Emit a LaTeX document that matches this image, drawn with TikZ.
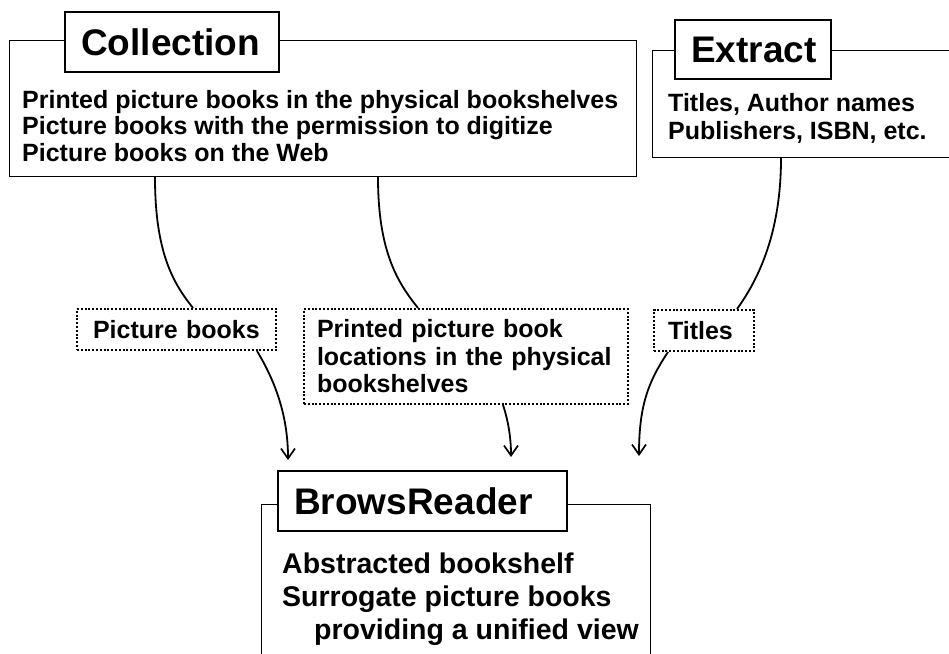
\documentclass[tikz,border=0pt]{standalone}
\usepackage{fontspec}
\setmainfont{Liberation Sans}
\usetikzlibrary{arrows.meta}
\begin{document}
\begin{tikzpicture}[x=1pt,y=-1pt,
  outerbox/.style={draw, line width=1.2pt, inner sep=0pt, anchor=north west},
  titlebox/.style={draw, fill=white, line width=2.4pt, inner xsep=16pt, inner ysep=0pt,
    align=left, anchor=north west, font=\fontsize{37}{42}\selectfont\bfseries},
  % multi-line text blocks are placed by the baseline of their last line
  bodytext/.style={inner sep=0pt, anchor=base west, align=left,
    font=\fontsize{25}{26.5}\selectfont\bfseries},
  tagbox/.style={draw, dash pattern=on 2pt off 1.8pt, line width=2pt, inner ysep=0pt,
    align=left, anchor=north west, font=\fontsize{25}{27.5}\selectfont\bfseries},
  link/.style={line width=1.8pt},
  feed/.style={line width=1.8pt, -{Straight Barb[length=10pt,width=14pt,line width=1.7pt]}}
]
\useasboundingbox (0,0) rectangle (949,653);
\clip (0,0) rectangle (949,653);

% Collection
\node[outerbox, minimum width=627pt, minimum height=136pt] (coll) at (9,40) {};
\node[titlebox, text width=182pt, minimum height=60pt] (collT) at (64,11) {Collection};
\node[bodytext] (collB) at (22,161) {Printed picture books in the physical bookshelves\\
  Picture books with the permission to digitize\\Picture books on the Web};

% Extract
\node[outerbox, minimum width=320pt, minimum height=107pt] (ext) at (652,50) {};
\node[titlebox, text width=124pt, minimum height=59pt] (extT) at (674,19) {Extract};
\node[bodytext, font=\fontsize{25}{28}\selectfont\bfseries] (extB) at (668,139)
  {Titles, Author names\\Publishers, ISBN, etc.};

% BrowsReader
\node[outerbox, minimum width=389pt, minimum height=170pt] (br) at (261,504) {};
\node[titlebox, text width=257pt, minimum height=60pt] (brT) at (277,470) {BrowsReader};
\node[bodytext, font=\fontsize{28.5}{33}\selectfont\bfseries] (brB) at (282,639)
  {Abstracted bookshelf\\Surrogate picture books\\\hspace*{32pt}providing a unified view};

% dotted tags
\node[tagbox, inner xsep=16pt, text width=167pt, minimum height=41pt] (tagPB) at (76,308) {Picture books};
\node[tagbox, inner xsep=13pt, text width=298pt, minimum height=95pt] (tagLoc) at (303,308)
  {Printed picture book\\locations in the physical\\bookshelves};
\node[tagbox, inner xsep=14pt, text width=72pt, minimum height=41pt] (tagT) at (653,309) {Titles};

% free ends above BrowsReader
\coordinate (pbIn) at (288,460);
\coordinate (locIn) at (511,457);
\coordinate (tIn) at (639,456);

% connectors
\draw[link] ([xshift=146pt]coll.south west) .. controls +(0,75) and +(-20,-25) .. ([xshift=117pt]tagPB.north west);
\draw[link] ([xshift=369pt]coll.south west) .. controls +(0,75) and +(-20,-25) .. ([xshift=115pt]tagLoc.north west);
\draw[link] ([xshift=129pt]ext.south west) .. controls +(0,80) and +(18,-25) .. ([xshift=84pt]tagT.north west);

\draw[feed] ([xshift=181pt]tagPB.south west) .. controls +(18,30) and +(0,-45) .. (pbIn);
\draw[feed] ([xshift=200pt]tagLoc.south west) .. controls +(5,15) and +(0,-20) .. (locIn);
\draw[feed] ([xshift=15pt]tagT.south west) .. controls +(-20,30) and +(0,-50) .. (tIn);
\end{tikzpicture}
\end{document}
